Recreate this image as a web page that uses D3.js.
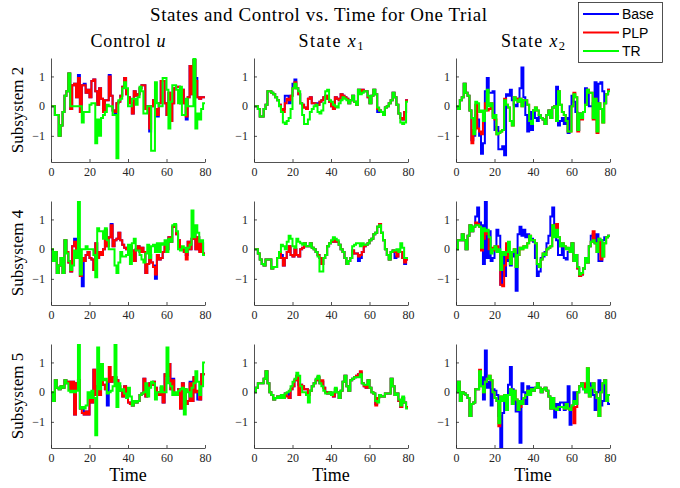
<!DOCTYPE html>
<html><head><meta charset="utf-8">
<script src="https://cdn.jsdelivr.net/npm/d3@7"></script>
<style>body{margin:0;background:#fff}svg{display:block}</style>
</head><body>
<script>
// ---------- data ----------
const xTicks = [0, 20, 40, 60, 80];
const yTicks = [-1, 0, 1];
const colTitles = ["Control", "State", "State"];
const rowLabels = ["Subsystem 2", "Subsystem 4", "Subsystem 5"];
const seriesNames = ["Base", "PLP", "TR"];
const seriesColors = ["#0000ff", "#ff0000", "#00ff00"];

// Subsystem 2
const u2Base = [0,0,-0.3,-0.3,-1.0,-0.65,-0.2,0.35,0.5,1.1, -0.1,0.7,0.75,0.3,1.05,-0.2,0.7,0.75,0.45,0.55, 0.3,0.85,0.9,0.5,0.05,0.6,0.25,-0.2,0.2,0.2, 1.05,0.35,-0.15,-0.3,0.1,0.15,0.35,0.65,0.95,0.4, 0.3,0.1,-0.25,0.5,0.35,0.4,0.6,0.7,0.7,-0.1, 0,-0.85,0,0.2,-0.1,-0.35,0.1,0.85,0.85,0.1, -0.3,0.45,-0.5,0.1,0.6,0.65,0.65,0.1,0.55,0.1, -0.45,0.3,1.35,0.4,1.55,0.95,0.3,0.25,0.3,0.3];
const u2PLP = [0,0,-0.3,-0.3,-1.0,-0.65,-0.2,0.35,0.5,1.1, -0.1,0.7,0.75,0.3,0.95,-0.2,0.7,0.7,0.45,0.55, 0.3,0.85,0.9,0.5,0.05,0.6,0.25,-0.2,0.2,0.2, 1.0,0.35,-0.15,-0.2,0.1,0.15,0.35,0.65,0.95,0.4, 0.3,0.1,-0.25,0.5,0.35,0.4,0.6,0.7,0.7,-0.1, 0,-0.75,0,0.2,-0.1,-0.3,0.1,0.85,0.85,0.1, -0.3,0.45,-0.5,0.1,0.6,0.65,0.65,0.1,0.55,0.1, -0.35,0.3,1.35,0.4,1.55,0.85,0.3,0.25,0.3,0.3];
const u2TR = [0,0,-0.3,-0.3,-1.0,-0.65,-0.2,0.35,0.5,1.1, 0,0,0,0,0,0,-0.55,-0.2,-0.2,-0.2, 0.05,0.1,0.1,-1.25,-0.45,-1.0,-0.4,-0.3,-0.2,0.05, 0,0,-0.3,-0.3,-1.75,0.2,0.25,0.6,0.8,0.6, 0,0,0.25,0.25,0.05,0.3,0.65,0.5,-0.25,-0.25, 0,0,-1.5,-1.5,0.8,0.1,0,0,0.95,0.95, 0.55,-0.75,0.15,0.7,0.7,0.55,0.1,0.65,-0.3,-0.3, 0.25,0,0,0,1.65,-0.75,-0.25,-0.45,-0.1,0.1];

const x1s2Base = [0,0,-0.1,-0.35,-0.35,-0.1,0.05,0.5,0.5,0.45, 0.4,0.3,0.2,0.05,-0.1,-0.1,0.35,0.35,0.1,0.35, 0.75,0.9,0.6,0.4,0.1,0.05,-0.05,-0.1,0.25,0.3, 0.1,0.1,0.1,0.05,0.15,0.2,0.3,0.35,0.25,0.15, 0,-0.1,0.3,0.25,0.2,0.4,0.35,0.3,0.25,0.1, 0.2,0.35,0.15,0.05,0.55,0.45,0.55,0.5,0.5,0.3, 0.1,0.35,0.55,0.4,-0.2,-0.15,-0.2,-0.3,-0.05,0, 0.1,0.2,0.45,0.3,0.05,-0.25,-0.4,-0.45,-0.2,0.2];
const x1s2PLP = [0,0,-0.1,-0.35,-0.35,-0.1,0.05,0.5,0.5,0.45, 0.4,0.3,0.2,0.05,-0.1,-0.2,0.1,0.25,0.2,0.35, 0.6,0.8,0.6,0.4,0.1,0.05,-0.05,-0.1,0.25,0.3, 0.1,0.1,0.05,0.05,0.15,0.2,0.3,0.35,0.25,0.15, 0,-0.1,0.3,0.25,0.2,0.4,0.35,0.3,0.25,0.1, 0.2,0.35,0.15,0.05,0.55,0.45,0.55,0.5,0.5,0.3, 0.1,0.35,0.55,0.4,-0.1,-0.15,-0.2,-0.3,-0.05,0, 0.1,0.2,0.45,0.3,0.05,-0.25,-0.4,-0.45,-0.2,0.2];
const x1s2TR = [0,0,-0.1,-0.35,-0.35,-0.1,0.05,0.5,0.5,0.45, 0.4,0.3,0.2,0,-0.2,-0.55,-0.6,-0.5,-0.4,-0.1, 0.6,0.75,0.6,0.5,0.1,-0.3,-0.6,-0.6,-0.45,-0.2, -0.1,0,0.05,-0.2,-0.25,-0.15,0.1,0.5,0.55,0.2, 0.15,0.05,0,-0.05,0.1,0.2,0.3,0.25,0.2,0.1, 0.2,0.35,0.15,0.05,0.55,0.4,0.45,0.5,0.5,0.35, 0.1,0.35,0.55,0.4,-0.05,-0.15,-0.2,-0.3,-0.05,0, 0.1,0.2,0.45,0.3,0.05,-0.25,-0.55,-0.6,-0.55,0.15];

const x2s2Base = [0,-0.1,0.2,0.3,0.75,0.45,0.35,-0.15,-1.15,-1.0, -0.3,-0.45,-1.0,-1.6,-1.25,0.5,0.95,0.45,0.45,0.5, -0.8,-0.7,-1.45,-1.45,-1.35,-1.65,0.4,0.35,0.55,0.2, 0.05,0,0.25,0.6,1.3,0.3,-0.3,-0.85,-0.2,-0.8, -0.15,-0.4,-0.5,-0.3,-0.4,-0.45,-0.6,-0.3,-0.15,-0.4, -0.05,0,0.65,-0.65,-0.5,-0.4,-0.6,-0.4,-0.9,0, 0.35,0.15,-0.2,-0.8,-0.25,-0.4,-0.2,0.6,0.5,0, 0,0.1,0.8,0,0.75,0.8,0.5,0.1,0.4,0.55];
const x2s2PLP = [0,-0.1,0.2,0.3,0.75,0.45,0.35,-0.15,-1.25,-0.8, 0.05,-0.75,-0.85,-0.95,-0.2,0.1,-0.15,-0.1,0.1,-0.35, -0.45,-0.95,-0.9,-0.85,-0.8,0.25,0.05,-0.05,-0.5,-0.65, 0.3,0.25,0.15,0.25,0,0.2,0.2,0.05,-0.5,-0.6, -0.15,-0.05,-0.15,-0.3,-0.4,-0.45,-0.6,-0.3,-0.15,-0.4, -0.05,0,-0.5,0.5,0.05,-0.2,-0.3,-0.5,-0.85,-0.85, 0,0.45,0.3,-0.85,-0.25,-0.45,-0.2,0.05,0.55,0.45, 0.45,-0.45,0.25,-0.9,0.1,-0.1,-0.55,0.1,0.4,0.55];
const x2s2TR = [0,-0.1,0.2,0.3,0.75,0.45,0.35,-0.15,-0.4,-0.95, 0.15,0.1,-0.2,-0.15,-0.5,-0.15,0.55,0,0.1,-0.4, -0.3,-0.95,-0.9,-0.85,-0.8,0.2,0.05,-0.05,-0.5,-0.65, 0.3,0.2,0.15,0.25,0,0.2,0.2,0.05,-0.5,-0.6, -0.15,-0.05,-0.15,-0.3,-0.4,-0.45,-0.6,-0.3,-0.15,-0.4, -0.05,0,-0.5,0.5,0.05,-0.2,-0.3,-0.5,-0.85,-0.85, 0,0.4,0.3,-0.8,-0.25,-0.4,-0.2,0.05,0.55,0.45, 0.45,-0.4,0.25,-0.85,0.1,-0.1,-0.55,0.1,0.4,0.5];

// Subsystem 4
const u4Base = [0,-0.4,-0.1,-0.8,-0.55,-0.3,-0.8,0.3,-0.1,-0.45, -0.75,0.1,0.35,-0.2,-0.2,-0.9,-1.25,-0.4,-0.2,-0.1, -0.3,-0.35,-0.7,0.2,-0.3,-0.1,-0.2,0,0.65,0.1, 0.4,0.85,0.1,0.3,0.35,0.55,0.3,0.15,0.05,0, -0.1,0.1,-0.05,-0.4,0,0.1,-0.1,0.05,-0.1,-0.8, -0.5,-0.2,-0.45,-0.55,-1.0,-0.2,-0.35,-0.3,-0.1,0.1, 0,0.4,0.25,0.75,0.8,0.5,0.3,0.05,0,-0.1, -0.2,0.25,0,0.35,0.5,0,0.4,-0.05,0.2,-0.15];
const u4PLP = [0,-0.4,-0.1,-0.8,-0.55,-0.3,-0.8,0.3,-0.1,-0.45, -0.75,0.1,0.25,-0.2,-0.2,-0.9,-0.3,-0.4,-0.2,-0.1, -0.3,-0.35,-0.7,0.2,-0.3,-0.1,-0.2,0,0.65,0.1, 0.4,0.8,0.1,0.3,0.35,0.55,0.3,0.15,0.05,0, -0.1,0.1,-0.05,-0.4,0,0.1,-0.1,0.05,-0.1,-0.8, -0.5,-0.2,-0.45,-0.6,-0.85,-0.2,-0.35,-0.3,-0.1,0.1, 0,0.4,0.25,0.75,0.8,0.5,0.3,0.05,0,-0.1, -0.35,0.25,0,0.35,0.5,0,0.4,-0.1,0.2,-0.15];
const u4TR = [0,-0.4,-0.1,-0.8,-0.55,-0.3,-0.8,0.3,-0.15,-0.4, -0.7,-0.55,-0.05,-0.3,1.6,-0.85,0,0,0.1,0, 0,0,-0.2,-0.95,0.7,0.6,0.6,0.35,0.7,0.3, 0,0,0,-0.55,-0.8,-0.45,-0.1,-0.25,-0.25,-0.2, 0.15,-0.5,0.2,0.35,-0.05,-0.05,-0.2,-0.35,-0.45,-0.15, 0.15,-0.3,0.1,0.15,-0.1,0.2,-0.1,0.2,0.15,0.3, -0.1,0.35,0.25,0.8,0.85,0.6,0,-0.05,0.1,0.05, -0.1,0.05,0.15,1.3,0.4,0.8,0.55,0.25,0.3,-0.2];

const x1s4Base = [0,0,-0.15,-0.35,-0.5,-0.55,-0.35,-0.35,-0.35,-0.65, -0.6,-0.6,-0.3,-0.1,-0.2,-0.55,-0.3,-0.1,0.1,-0.2, -0.25,0,-0.2,-0.25,0,0.05,0.2,0.1,0.1,0.2, 0.05,0,-0.1,-0.2,-0.3,-0.5,-0.3,-0.2,0.1,0.2, 0.25,0.35,0.25,0.25,0.15,0,-0.1,-0.3,-0.5,-0.4, -0.3,-0.05,-0.15,-0.15,-0.4,-0.3,-0.1,0.1,0.15,0.2, 0.3,0.35,0.5,0.55,0.75,0.85,0.55,0.3,0,-0.2, -0.35,-0.1,-0.05,-0.3,-0.25,-0.1,-0.1,-0.3,-0.5,-0.35];
const x1s4PLP = [0,0,-0.15,-0.35,-0.5,-0.55,-0.35,-0.35,-0.35,-0.65, -0.6,-0.6,-0.3,-0.1,-0.3,-0.55,-0.3,-0.1,0.1,-0.2, -0.25,0,-0.2,-0.25,0,0.05,0.2,0.1,0.1,0.2, 0.05,0,-0.1,-0.2,-0.3,-0.5,-0.3,-0.2,0.1,0.2, 0.25,0.35,0.25,0.25,0.15,0,-0.1,-0.3,-0.5,-0.4, -0.3,-0.05,-0.15,-0.15,-0.25,-0.2,-0.1,0.1,0.15,0.2, 0.3,0.35,0.5,0.55,0.75,0.85,0.55,0.3,0,-0.2, -0.35,-0.1,-0.05,-0.1,-0.25,-0.1,-0.1,-0.3,-0.45,-0.35];
const x1s4TR = [0,0,-0.15,-0.35,-0.5,-0.55,-0.35,-0.35,-0.35,-0.65, -0.6,-0.6,-0.3,-0.1,0.15,0.1,0,0.25,0.45,0.35, 0.1,0.05,0.35,0.25,0.2,0.15,0.2,0.1,0.1,0.2, 0.05,0,-0.1,-0.25,-0.75,-0.75,-0.3,-0.2,0.1,0.2, 0.3,0.4,0.35,0.3,0.15,0,-0.1,-0.3,-0.5,-0.4, -0.3,0.1,0.15,0.2,0.2,0.1,0.2,0.15,0.15,0.2, 0.3,0.35,0.5,0.55,0.75,0.8,0.55,0.3,0,-0.2, -0.35,-0.1,-0.05,-0.05,0,-0.1,0.2,0.05,-0.3,-0.3];

const x2s4Base = [0,0.3,0.3,0.5,0.3,0,0.45,0.8,0.6,0.75, 1.1,1.4,0.9,0.8,-0.5,1.6,-0.3,0.6,-0.4,-0.3, 0,0.65,0.45,-1.2,-0.2,-0.9,0.05,-0.4,-0.55,-0.25, -0.15,-1.4,0.5,0.75,0.45,0.65,0.4,0.5,0.3,0.35, 0.25,-0.3,-0.9,-0.75,-0.3,-0.25,-0.1,0.2,0.45,1.1, 1.4,0.8,0.3,-0.2,-0.2,0.05,-0.3,-0.35,-0.1,-0.1, 0.2,-0.4,-0.2,-0.65,-0.9,-0.85,-0.65,-0.3,-0.45,0.1, 0.45,0.5,0.2,0.5,-0.4,-0.4,0.3,0.4,0.4,0.45];
const x2s4PLP = [0,0.3,0.3,0.5,0.3,0,0.45,0.8,0.6,0.75, 0.9,0.85,0.75,-0.05,0.35,0.6,0.5,0,0.05,-0.05, 0.1,0.1,-0.1,-1.2,-1.25,-0.55,0.2,-0.3,-0.5,-0.1, 0,-0.6,-0.2,0.05,0,0.1,0.1,0.2,0.45,0.3, 0.3,0.2,-0.5,-0.6,-0.35,-0.15,-0.2,0,0.05,0.1, 0.8,0.6,0.85,0.4,0.1,0.2,0.1,0.05,0,-0.1, 0.2,-0.4,-0.2,-0.65,-0.9,-0.85,-0.65,-0.3,-0.45,0.1, 0.25,0.6,0.2,-0.1,0.35,-0.35,-0.25,0.2,0.4,0.45];
const x2s4TR = [0,0.3,0.3,0.5,0.3,0,0.45,0.8,0.6,0.75, 0.8,0.8,0.75,0.05,0.7,0.6,0.65,0.4,-0.15,0, 0.1,-0.1,0,-0.7,-0.1,-0.2,-0.1,0.25,-0.5,-0.1, 0,-0.6,-0.2,0.05,0,0.1,0.05,0.2,0.45,0.3, 0.3,0.2,-0.5,-0.6,-0.35,-0.15,-0.2,0,0.05,0.1, 0.8,0.4,0.65,0.4,0.1,0.2,0.1,0,0.05,-0.1, 0.2,-0.4,-0.2,-0.6,-0.85,-0.8,-0.65,-0.3,-0.45,0.1, 0.25,0.3,0.2,-0.1,0.35,0.3,-0.25,0.2,0.4,0.45];

// Subsystem 5
const u5Base = [0,-0.3,0.4,0.15,0.1,0.2,0.15,0.4,0.3,0.35, 0.1,0.35,-0.75,0.3,0.4,-0.55,-0.5,-0.75,-0.65,-0.75, -0.2,-0.35,0.75,-0.1,0.2,-0.1,0.6,0.25,0.1,-0.45, 0.35,0.35,0.5,0.5,0.4,0.2,0.05,-0.15,0.2,-0.05, -0.35,-0.4,-0.45,-0.3,-0.35,-0.3,-0.1,-0.05,0.45,-0.15, 0.15,0.3,0.25,0.35,0.15,0,-0.1,0.15,-0.35,0.6, 0.55,0.95,0.1,0.45,-0.1,-0.05,0.1,-0.55,0.3,0.1, -0.4,-0.3,0.35,-0.3,0.5,0,-0.25,-0.25,0.6,0.6];
const u5PLP = [0,-0.3,0.4,0.15,0.1,0.2,0.15,0.4,0.3,0.35, 0.1,0.35,-0.75,0.3,0.4,-0.55,-0.7,-0.75,-0.65,-0.75, -0.2,-0.35,0.75,-0.1,0.2,-0.1,0.6,0.25,0.1,0.35, 0.85,0.35,0.5,0.5,0.4,0.2,0.05,-0.15,0.2,-0.05, -0.35,-0.4,-0.45,-0.3,-0.35,-0.3,-0.1,-0.05,0.45,-0.15, 0.15,0.3,0.25,0.35,0.15,0,-0.1,0.15,-0.35,0.6, 0.55,0.95,0.1,0.4,-0.1,-0.05,0.1,-0.55,0.3,0.1, -0.4,-0.3,0.3,-0.3,0.5,0,0.05,-0.25,0.6,0.6];
const u5TR = [0,-0.3,0.4,0.15,0.1,0.2,0.15,0.4,0.3,0.05, 0,0.05,0,0.05,1.6,-0.55,-0.5,-0.55,-0.45,0, -0.2,0.05,-0.2,-1.45,1.5,0.1,0.95,0.4,0.45,-0.05, 0,0.05,0.2,1.6,-0.5,0.3,0.05,0.1,-0.05,-0.2, 0.15,-0.15,-0.45,-0.3,-0.35,-0.3,-0.1,-0.05,0,0.3, -0.15,0.15,0.35,0.3,-0.25,0,0,0.2,0,0, 1.5,0.3,0.2,-0.1,0,-0.1,0.05,0.1,0.15,-0.75, 0.1,0,-0.15,0.15,0.3,0.7,0.35,-0.1,0.2,1.0];

const x1s5Base = [0,0.15,0.3,0.3,0.3,0.45,0.7,0.3,0,-0.1, -0.25,-0.2,-0.15,-0.2,-0.1,-0.2,-0.05,-0.05,-0.2,0.1, 0.2,0.4,0.55,0.25,0.25,0.2,0.1,0.1,-0.1,0.05, 0.2,0.3,0.4,0.5,0.3,0.35,0.15,0,-0.05,0, -0.1,-0.15,0.1,0,-0.2,0.05,0.35,0.55,0.2,0.05, 0.4,0.45,0.5,0.55,0.6,0.65,0.3,0.2,0.15,0.4, 0.15,0,-0.05,-0.4,-0.2,-0.1,-0.15,-0.15,-0.05,-0.05, -0.05,0.45,0.2,-0.1,-0.05,-0.3,-0.5,-0.2,-0.35,-0.5];
const x1s5PLP = [0,0.15,0.3,0.3,0.3,0.45,0.7,0.3,0,-0.1, -0.25,-0.2,-0.15,-0.2,-0.1,-0.2,-0.05,-0.15,-0.2,0.1, 0.2,0.4,0.55,-0.1,0.25,0.2,0.1,0.1,-0.1,0.05, 0.2,0.3,0.4,0.5,0.3,0.4,0.15,0,-0.05,0, -0.1,-0.15,0.1,0,-0.2,0.05,0.35,0.55,0.2,0.05, 0.4,0.45,0.5,0.55,0.6,0.7,0.3,0.2,0.15,0.4, 0.15,0,-0.05,-0.45,-0.2,-0.1,-0.15,-0.15,-0.05,-0.05, -0.05,0.45,0.2,-0.1,-0.05,-0.3,-0.5,-0.2,-0.35,-0.5];
const x1s5TR = [0,0.15,0.3,0.3,0.3,0.45,0.7,0.3,0,-0.1, -0.25,-0.2,-0.15,-0.2,-0.1,-0.2,-0.05,0,0.05,0.2, 0.35,0.45,0.65,0.55,0.2,0,0,-0.1,-0.35,0.05, 0.2,0.3,0.45,0.55,0.3,0.2,0.05,-0.05,-0.05,0, -0.1,0,0.15,0,-0.2,0.05,0.35,0.55,0.2,0.05, 0.4,0.45,0.5,0.5,0.5,0.6,0.3,0.25,0.25,0.4, 0.15,0,-0.05,-0.3,-0.35,-0.1,-0.15,-0.15,-0.05,-0.05, -0.05,0.45,0.2,-0.1,-0.05,-0.25,-0.45,-0.15,-0.35,-0.55];

const x2s5Base = [0,0.35,-0.3,0,-0.05,-0.1,-0.2,-0.8,-0.4,-0.35, 0.1,0.1,0.25,0.5,-0.25,1.4,0.15,0.35,-0.45,0.1, 0.05,-0.1,-0.8,-1.88,-0.7,-0.15,-0.55,0.25,0.85,0.1, -0.3,-0.65,-0.35,-1.7,0.3,0,-0.4,0.2,-0.05,0.15, 0.05,0.15,0.3,0.15,0,0.1,0.15,0.05,-0.15,-0.55, -0.2,-0.85,-0.4,-0.6,-0.35,-0.35,-0.6,-0.35,0.2,-1.1, -0.6,0,-0.4,0,0.2,0.3,0.1,0,0.35,0.3, 0.2,-0.1,-0.6,0,0.4,-0.45,-0.3,0.4,-0.3,-0.4];
const x2s5PLP = [0,0.35,-0.3,0,-0.05,-0.1,-0.2,-0.8,-0.4,-0.35, 0.1,0.1,0.75,0.2,0,0.35,0.45,0.55,0.4,0, -0.2,-0.3,-1.15,-0.15,-0.15,-0.1,-0.6,-0.1,0.1,-0.4, 0.05,-0.25,-0.6,-0.5,-0.4,-0.2,-0.1,0.05,-0.1,0.1, 0.05,0.15,0.3,0.15,0,0.1,0.15,0.05,-0.15,-0.55, -0.2,-0.55,-0.6,-0.5,-0.5,-0.5,-0.55,-0.4,-0.55,-0.6, -0.45,-1.05,-0.5,0,0.2,0.3,0.3,0,0.8,-0.15, 0.15,0.3,0,-0.2,-0.8,0,0.3,0.4,-0.3,-0.1];
const x2s5TR = [0,0.35,-0.3,0,-0.05,-0.1,-0.2,-0.8,-0.4,-0.35, 0.1,0.1,0.7,0.2,0,0.35,0.45,0.55,0.4,0, -0.2,-0.3,-1.05,-0.15,-0.3,-0.1,-0.6,-0.1,0.1,-0.4, 0.05,-0.25,-0.6,-0.3,-0.4,-0.2,-0.1,0.05,-0.1,0.1, 0.05,0.15,0.3,0.15,0,0.1,0.15,0.05,-0.15,-0.55, -0.2,-0.55,-0.6,-0.5,-0.5,-0.5,-0.55,-0.4,-0.55,-0.6, -0.45,-0.3,-0.4,0,0.2,0.3,0.1,0,0.8,-0.15, 0.15,0.3,0,-0.2,-0.8,0,0.3,0.4,-0.3,-0.1];

const panels = [
  [[u2Base, u2PLP, u2TR], [x1s2Base, x1s2PLP, x1s2TR], [x2s2Base, x2s2PLP, x2s2TR]],
  [[u4Base, u4PLP, u4TR], [x1s4Base, x1s4PLP, x1s4TR], [x2s4Base, x2s4PLP, x2s4TR]],
  [[u5Base, u5PLP, u5TR], [x1s5Base, x1s5PLP, x1s5TR], [x2s5Base, x2s5PLP, x2s5TR]]
];

// ---------- layout ----------
const W = 680, H = 488;
const colX = [51, 254, 456], panelW = 154;
const rowY = [58, 201, 344], panelH = 104;
const yDomain = [-1.88, 1.62];
const axisColor = "#262626";
const serif = "'Liberation Serif', 'DejaVu Serif', serif";
const colTitleWidths = [75, 65, 64];

const svg = d3.select("body").append("svg").attr("width", W).attr("height", H);
const defs = svg.append("defs");

svg.append("text").attr("x", 150).attr("y", 21)
  .attr("font-family", serif).attr("font-size", 19).attr("fill", "#000")
  .attr("textLength", 337).attr("lengthAdjust", "spacing")
  .text("States and Control vs. Time for One Trial");

colTitles.forEach((t, c) => {
  const cx = colX[c] + panelW / 2;
  const tx = svg.append("text").attr("x", cx - colTitleWidths[c] / 2).attr("y", 47)
    .attr("font-family", serif).attr("font-size", 18).attr("fill", "#000")
    .attr("textLength", colTitleWidths[c]).attr("lengthAdjust", "spacing");
  tx.append("tspan").text(t + " ");
  if (c === 0) tx.append("tspan").attr("font-style", "italic").text("u");
  else {
    tx.append("tspan").attr("font-style", "italic").text("x");
    tx.append("tspan").attr("font-size", 12.5).attr("dy", 3).text(String(c));
  }
});

panels.forEach((row, r) => {
  row.forEach((series, c) => {
    const x = d3.scaleLinear().domain([0, 80]).range([colX[c], colX[c] + panelW]);
    const y = d3.scaleLinear().domain(yDomain).range([rowY[r] + panelH, rowY[r]]);
    const id = `clip${r}${c}`;
    defs.append("clipPath").attr("id", id).append("rect")
      .attr("x", x(0)).attr("y", y(yDomain[1])).attr("width", panelW).attr("height", panelH);
    const g = svg.append("g");
    const line = d3.line().x(d => x(d[0])).y(d => y(d[1])).curve(d3.curveStepAfter);
    series.forEach((vals, s) => {
      const pts = vals.map((v, i) => [i, v]);
      pts.push([vals.length, vals[vals.length - 1]]);
      g.append("path").datum(pts).attr("d", line)
        .attr("clip-path", `url(#${id})`)
        .attr("fill", "none").attr("stroke", seriesColors[s])
        .attr("stroke-width", 2).attr("stroke-linejoin", "miter");
    });
    const xa = svg.append("g").attr("transform", `translate(0,${rowY[r] + panelH})`)
      .call(d3.axisBottom(x).tickValues(xTicks).tickSizeInner(-3).tickSizeOuter(0).tickPadding(5));
    const ya = svg.append("g").attr("transform", `translate(${colX[c]},0)`)
      .call(d3.axisLeft(y).tickValues(yTicks).tickSizeInner(-3).tickSizeOuter(0).tickPadding(6)
        .tickFormat(v => v < 0 ? "\u2212" + Math.abs(v) : String(v)));
    [xa, ya].forEach(a => {
      a.select(".domain").attr("stroke", axisColor).attr("stroke-width", 0.8);
      a.selectAll(".tick line").attr("stroke", axisColor).attr("stroke-width", 0.8);
      a.selectAll(".tick text").attr("fill", axisColor).attr("font-family", serif).attr("font-size", 12);
    });
    if (c === 0) {
      svg.append("text").attr("transform", `translate(23,${rowY[r] + panelH / 2}) rotate(-90)`)
        .attr("text-anchor", "middle").attr("font-family", serif).attr("font-size", 17).attr("fill", "#000")
        .text(rowLabels[r]);
    }
    if (r === 2) {
      svg.append("text").attr("x", colX[c] + panelW / 2).attr("y", 481).attr("text-anchor", "middle")
        .attr("font-family", serif).attr("font-size", 18).attr("fill", "#000").text("Time");
    }
  });
});

// legend
const lg = svg.append("g");
lg.append("rect").attr("x", 578.5).attr("y", 2.5).attr("width", 84).attr("height", 60)
  .attr("fill", "#fff").attr("stroke", axisColor).attr("stroke-width", 0.8);
seriesNames.forEach((n, i) => {
  const ly = 14 + i * 18.5;
  lg.append("line").attr("x1", 583).attr("x2", 619).attr("y1", ly).attr("y2", ly)
    .attr("stroke", seriesColors[i]).attr("stroke-width", 2);
  lg.append("text").attr("x", 622).attr("y", ly + 5).attr("font-family", "'Liberation Sans', Arial, sans-serif")
    .attr("font-size", 14).attr("fill", "#000").text(n);
});
</script>
</body></html>
